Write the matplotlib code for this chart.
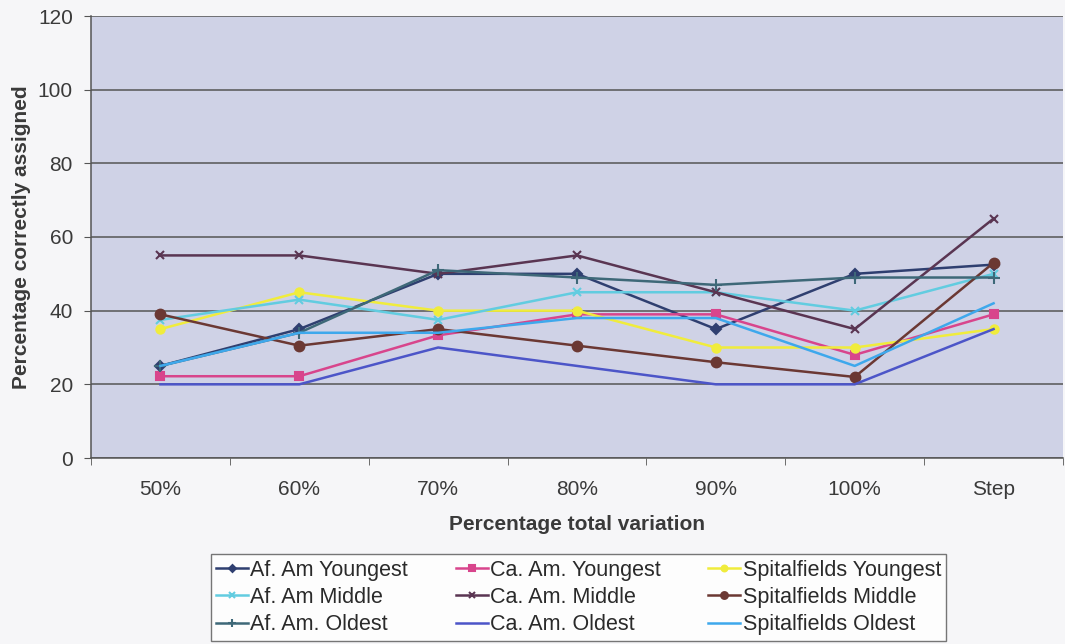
import matplotlib
matplotlib.use("Agg")
import matplotlib.pyplot as plt

categories = ["50%", "60%", "70%", "80%", "90%", "100%", "Step"]

af_am_youngest = [25, 35, 50, 50, 35, 50, 52.5]
ca_am_youngest = [22.2, 22.2, 33.3, 39, 39, 28, 39]
spit_youngest = [35, 45, 40, 40, 30, 30, 35]
af_am_middle = [37.5, 43, 37.5, 45, 45, 40, 50]
ca_am_middle = [55, 55, 50, 55, 45, 35, 65]
spit_middle = [39, 30.5, 35, 30.5, 26, 22, 53]
af_am_oldest = [25, 34, 51, 49, 47, 49, 49]
ca_am_oldest = [20, 20, 30, 25, 20, 20, 35]
spit_oldest = [25, 34, 34, 38, 38, 25, 42]

labels = ["Af. Am Youngest", "Ca. Am. Youngest", "Spitalfields Youngest",
          "Af. Am Middle", "Ca. Am. Middle", "Spitalfields Middle",
          "Af. Am. Oldest", "Ca. Am. Oldest", "Spitalfields Oldest"]
series = [af_am_youngest, ca_am_youngest, spit_youngest,
          af_am_middle, ca_am_middle, spit_middle,
          af_am_oldest, ca_am_oldest, spit_oldest]
colors = ["#2f3f70", "#d8458c", "#f0ec3c", "#62cce0", "#5a3552",
          "#6b3833", "#3e6878", "#4c55c8", "#3ea8ec"]
markers = ["D", "s", "o", "x", "x", "o", "+", None, None]
msizes = [5, 6, 6, 6, 6, 7, 8, 0, 0]

plt.rcParams['font.family'] = ['Liberation Sans', 'DejaVu Sans']

fig = plt.figure(figsize=(10.65, 6.44), dpi=100, facecolor="#f6f6f8")
ax = fig.add_axes([91/1065, 1-458/644, 972/1065, 442/644])
ax.set_facecolor("#cfd2e6")

x = list(range(len(categories)))
handles = []
for vals, lab, c, m, ms in zip(series, labels, colors, markers, msizes):
    h, = ax.plot(x, vals, color=c, marker=m, markersize=ms, linewidth=1.8,
                 markeredgewidth=1.5, label=lab)
    handles.append(h)

ax.set_xlim(-0.5, len(categories) - 0.5)
ax.set_ylim(0, 120)
ax.set_yticks(range(0, 121, 20))
ax.yaxis.grid(True, color="#555555", linewidth=1.1)
ax.set_axisbelow(True)
ax.set_xticks(x)
ax.set_xticklabels(categories, fontsize=15, color="#3a3a3a")
ax.tick_params(axis="x", length=0, pad=16)
ax.set_xticks([i + 0.5 for i in range(-1, len(categories))], minor=True)
ax.tick_params(axis="x", which="minor", length=5, color="#555555")
ax.tick_params(axis="y", labelsize=15, colors="#3a3a3a", length=5, pad=8,
               color="#555555")
for s in ["top", "right"]:
    ax.spines[s].set_visible(False)
for s in ["left", "bottom"]:
    ax.spines[s].set_color("#555555")
    ax.spines[s].set_linewidth(1.1)

ax.set_xlabel("Percentage total variation", fontsize=15, fontweight="bold",
              color="#3a3a3a", labelpad=11)
ax.set_ylabel("Percentage correctly assigned", fontsize=15, fontweight="bold",
              color="#3a3a3a", labelpad=5)

order = [0, 3, 6, 1, 4, 7, 2, 5, 8]
leg = fig.legend([handles[i] for i in order], [labels[i] for i in order],
                 ncol=3, loc="center", bbox_to_anchor=(578.5/1065, 1-597.5/644),
                 fontsize=15.5, frameon=True, fancybox=False, handlelength=1.5,
                 handletextpad=0.1, columnspacing=2.2, labelspacing=0.3,
                 borderpad=0.25, borderaxespad=0, markerscale=0.7)
leg.get_frame().set_edgecolor("#555555")
leg.get_frame().set_facecolor("white")
leg.get_frame().set_linewidth(1.0)
for t in leg.get_texts():
    t.set_color("#2a2a2a")

fig.savefig("out.png", dpi=100, facecolor=fig.get_facecolor())
